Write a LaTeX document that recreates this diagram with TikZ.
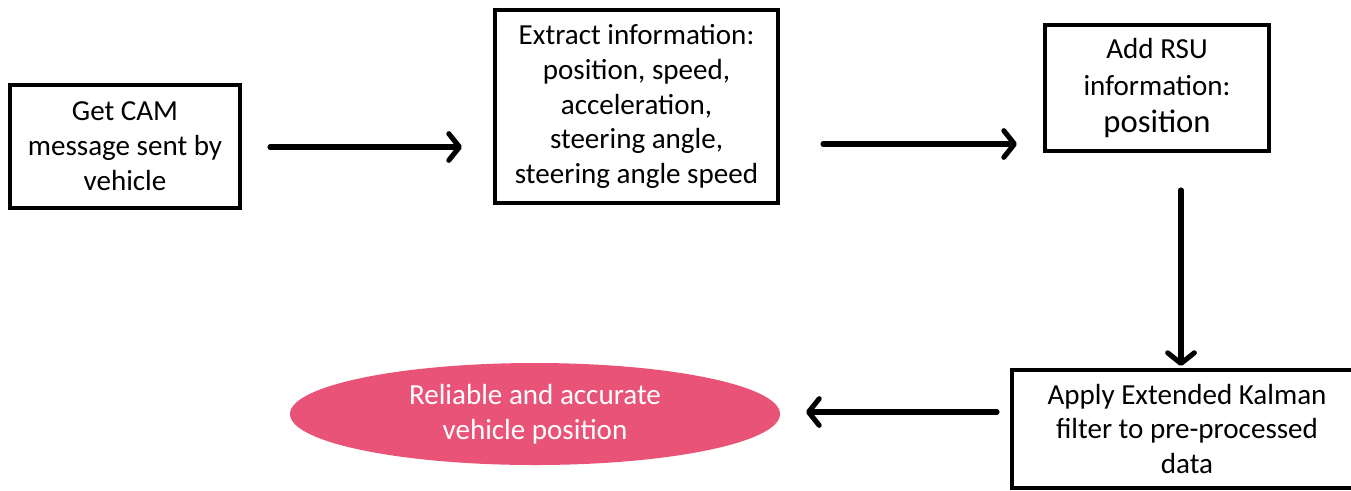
\documentclass[tikz,border=0pt]{standalone}
\usepackage{fontspec}
\setmainfont{Carlito}
\usetikzlibrary{arrows.meta,shapes.geometric}
\definecolor{pinkfill}{HTML}{E95377}
\tikzset{
  stepbox/.style={draw=black, line width=3pt, align=center, inner sep=0pt,
    font=\fontsize{21.8}{26.2}\selectfont},
  flow/.style={line width=3.8pt, line cap=round,
    -{Straight Barb[length=8pt, width=20pt, line width=3.8pt, round]}},
}
\begin{document}
\begin{tikzpicture}[x=0.75pt, y=-0.75pt]
\clip (0,0) rectangle (1351,490);
\useasboundingbox (0,0) rectangle (1351,490);
\fill[white] (0,0) rectangle (1351,490);
\node[stepbox, minimum width=230*0.75pt, minimum height=123*0.75pt] (b1) at (125,146.5) {Get CAM\\message sent by\\vehicle};
\node[stepbox, minimum width=283*0.75pt, minimum height=193*0.75pt] (b2) at (636.5,106.5) {Extract information:\\position, speed,\\acceleration,\\steering angle,\\steering angle speed};
\node[stepbox, minimum width=224*0.75pt, minimum height=126*0.75pt, font=\fontsize{21.8}{27.7}\selectfont] (b3) at (1157,88) {Add RSU\\information:\\{\fontsize{24.5}{27.7}\selectfont position}};
\node[stepbox, minimum width=350*0.75pt, minimum height=118*0.75pt] (b4) at (1187,429) {Apply Extended Kalman\\filter to pre-processed\\data};
\node[ellipse, fill=pinkfill, minimum width=490*0.75pt, minimum height=102*0.75pt, inner sep=0pt, align=center, text=white, font=\fontsize{21.8}{26.2}\selectfont] (e) at (535,414) {Reliable and accurate\\vehicle position};
\coordinate (a1s) at (270,147);
\coordinate (a1e) at (462,147);
\coordinate (a2s) at (823,144);
\coordinate (a2e) at (1017,144);
\coordinate (a3s) at (1181,190);
\coordinate (a3e) at (1181,366);
\coordinate (a4s) at (997,412);
\coordinate (a4e) at (806,412);
\draw[flow] (a1s) -- (a1e);
\draw[flow] (a2s) -- (a2e);
\draw[flow] (a3s) -- (a3e);
\draw[flow] (a4s) -- (a4e);
\end{tikzpicture}
\end{document}
